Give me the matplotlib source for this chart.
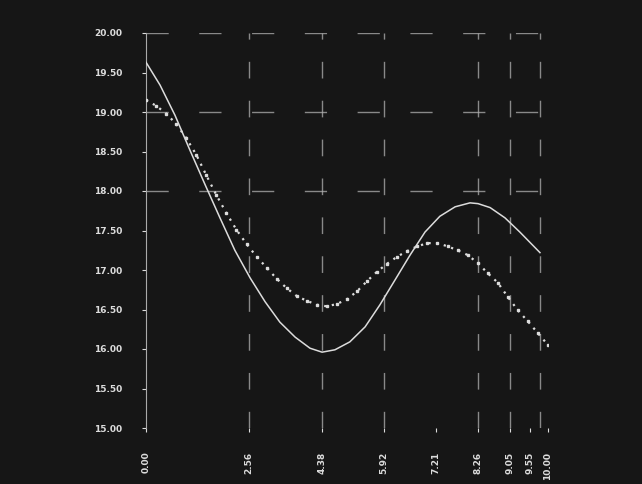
import matplotlib
matplotlib.use("Agg")
import matplotlib.pyplot as plt

# x tick positions (uneven spacing) and labels
x_ticks = [0.0, 2.56, 4.38, 5.92, 7.21, 8.26, 9.05, 9.55, 10.0]
x_labels = ["0.00", "2.56", "4.38", "5.92", "7.21", "8.26", "9.05", "9.55", "10.00"]

y_ticks = [15.0, 15.5, 16.0, 16.5, 17.0, 17.5, 18.0, 18.5, 19.0, 19.5, 20.0]

# solid series
solid_x = [0.0, 0.35, 0.72, 1.09, 1.47, 1.84, 2.21, 2.59, 2.96, 3.33, 3.71, 4.08,
           4.38, 4.70, 5.07, 5.45, 5.82, 6.19, 6.57, 6.94, 7.31, 7.69, 8.06, 8.26,
           8.56, 8.93, 9.30, 9.80]
solid_y = [19.63, 19.34, 18.96, 18.52, 18.08, 17.66, 17.25, 16.90, 16.60, 16.34, 16.15, 16.01,
           15.96, 15.99, 16.09, 16.28, 16.56, 16.87, 17.19, 17.48, 17.68, 17.80, 17.85, 17.84,
           17.79, 17.66, 17.48, 17.22]

# dotted (marker) series
dots_x = [0.25 * k for k in range(41)]
dots_y = [19.15, 19.08, 18.98, 18.85, 18.67, 18.46, 18.20, 17.95, 17.72, 17.51,
          17.33, 17.17, 17.03, 16.89, 16.77, 16.67, 16.61, 16.56, 16.54, 16.57,
          16.63, 16.73, 16.86, 16.98, 17.08, 17.17, 17.24, 17.30, 17.34, 17.34,
          17.30, 17.25, 17.19, 17.09, 16.96, 16.84, 16.66, 16.49, 16.35, 16.20,
          16.05]

BG = "#161616"
FG = "#dcdcdc"

fig = plt.figure(figsize=(6.42, 4.84), dpi=100, facecolor=BG)
ax = fig.add_axes([146 / 642, 1 - 428 / 484, 402 / 642, 395 / 484])
ax.set_facecolor(BG)

# sparse, broken-looking grid
for xt in [2.56, 4.38, 5.92, 8.26, 9.05, 9.8]:
    ax.axvline(xt, color="#b0b0b0", lw=1.0, ls=(0, (12, 16)), alpha=0.75, zorder=1)
for yt in [18.0, 19.0, 20.0]:
    ax.axhline(yt, color="#b0b0b0", lw=1.0, ls=(0, (16, 22)), alpha=0.75, zorder=1)

ax.plot(solid_x, solid_y, color=FG, lw=1.1, zorder=3)
ax.plot(dots_x, dots_y, ls=(0, (1, 2.5)), lw=1.6, marker="s", ms=1.8, color=FG, zorder=3)

ax.set_xlim(0, 10)
ax.set_ylim(15, 20)
ax.set_xticks(x_ticks)
ax.set_xticklabels(x_labels, rotation=90)
ax.set_yticks(y_ticks)
ax.set_yticklabels([f"{v:.2f}" for v in y_ticks])
ax.tick_params(colors=FG, labelsize=6.5, length=3, pad=14)
for lbl in ax.get_xticklabels() + ax.get_yticklabels():
    lbl.set_fontweight("bold")

for side in ["top", "right", "bottom"]:
    ax.spines[side].set_visible(False)
ax.spines["left"].set_color("#aaaaaa")

fig.savefig("out.png", dpi=100, facecolor=BG)
